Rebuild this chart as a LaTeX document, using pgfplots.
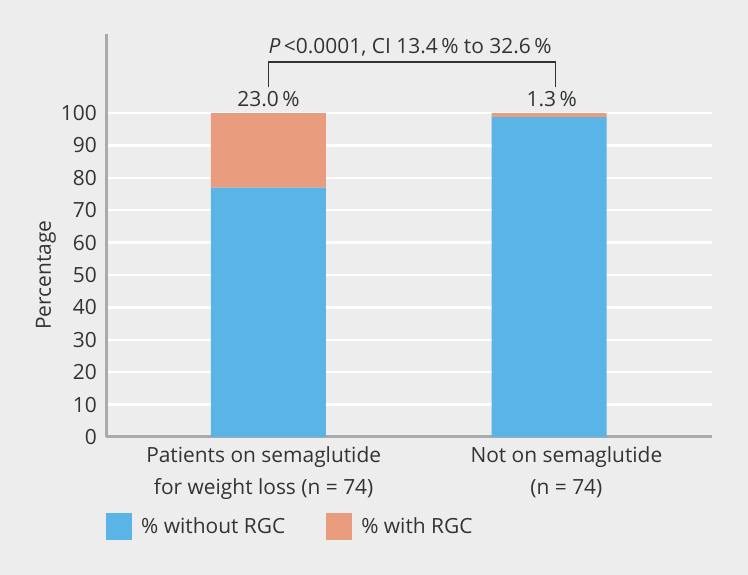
\documentclass[border=0pt]{standalone}
\usepackage{pgfplots}
\pgfplotsset{compat=1.18}
\usepackage{fontspec}
\setmainfont{Open Sans}
\definecolor{bg}{HTML}{ECEDEC}
\definecolor{barblue}{HTML}{5AB4E6}
\definecolor{barsalmon}{HTML}{EA9C7E}
\definecolor{axgrey}{HTML}{A8AAAB}
\definecolor{txt}{HTML}{333333}
\newcommand{\fs}{\fontsize{21}{25}\selectfont}
\begin{document}
\begin{tikzpicture}[x=1bp,y=1bp]
\fill[bg] (0,0) rectangle (748,575);
\begin{axis}[
  at={(106bp,138bp)}, anchor=south west,
  scale only axis, width=606bp, height=403bp,
  xmin=-0.579, xmax=1.581, ymin=0, ymax=124.4,
  ybar stacked, bar width=115bp,
  axis x line*=bottom, axis y line*=left,
  axis line style={draw=axgrey, line width=3bp, -},
  xtick=\empty,
  ytick={0,10,...,100},
  ymajorgrids, grid style={draw=white, line width=2.5bp},
  major tick length=0pt,
  yticklabel style={font=\fs, text=txt, inner sep=0pt, xshift=-9bp},
  /pgf/number format/assume math mode=true,
  clip=false,
  legend style={at={(rel axis cs:0,-0.1886)}, anchor=north west, draw=none, fill=none,
    inner sep=0pt, font=\fs, text=txt,
    nodes={inner xsep=9bp},
    /tikz/every even column/.append style={column sep=32bp}},
  legend columns=2,
  legend cell align=left,
]
\addplot+[draw=none, fill=barblue, bar shift=0pt,
  legend image code/.code={\fill[barblue] (0bp,-13.5bp) rectangle (26bp,13.5bp);}]
  coordinates {(0,77.0) (1,98.7)};
\addlegendentry{\% without RGC}
\addplot+[draw=none, fill=barsalmon, bar shift=0pt,
  legend image code/.code={\fill[barsalmon] (0bp,-13.5bp) rectangle (26bp,13.5bp);}]
  coordinates {(0,23.0) (1,1.3)};
\addlegendentry{\% with RGC}
% y axis label
\node[font=\fs, text=txt, rotate=90, anchor=center] at (rel axis cs:-0.099,0.402) {Percentage};
% bar value labels
\node[font=\fs, text=txt, anchor=base] at (axis cs:0,102.0) {23.0\,\%};
\node[font=\fs, text=txt, anchor=base] at (axis cs:1.01,102.0) {1.3\,\%};
% bracket
\draw[txt, line width=1.5bp] (axis cs:0,108.0) -- (axis cs:0,115.7) -- (axis cs:1.023,115.7) -- (axis cs:1.023,108.0);
\node[font=\fs, text=txt, anchor=base] at (axis cs:0.505,118.5) {\textit{P}\,<0.0001, CI 13.4\,\% to 32.6\,\%};
% category labels
\node[font=\fs, text=txt, anchor=base] at (axis cs:-0.017,-8.02) {Patients on semaglutide};
\node[font=\fs, text=txt, anchor=base] at (axis cs:-0.017,-17.9) {for weight loss (n = 74)};
\node[font=\fs, text=txt, anchor=base] at (axis cs:1.062,-8.02) {Not on semaglutide};
\node[font=\fs, text=txt, anchor=base] at (axis cs:1.062,-17.9) {(n = 74)};
\end{axis}
\end{tikzpicture}
\end{document}
